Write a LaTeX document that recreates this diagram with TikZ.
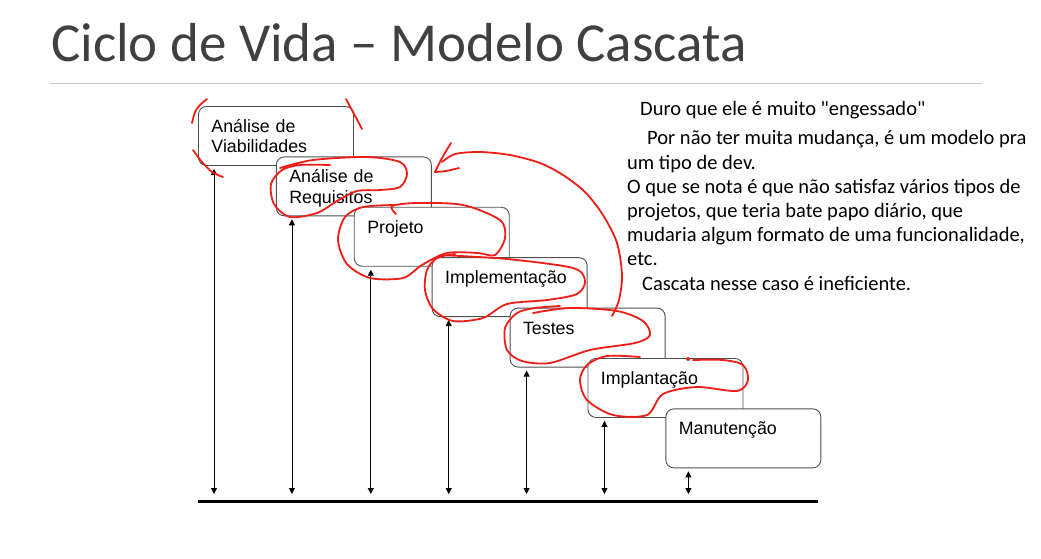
\documentclass[tikz,border=0pt]{standalone}
\usepackage{fontspec}
\usepackage{tikz}
\usetikzlibrary{positioning,arrows.meta}
\newfontfamily\calibri{Carlito}
\newfontfamily\arial{Liberation Sans}
\definecolor{ink}{RGB}{240,28,22}
\definecolor{titlegray}{RGB}{64,64,64}
\definecolor{boxgray}{RGB}{80,80,80}

\begin{document}
\begin{tikzpicture}[
  x=1pt, y=-1pt,
  phase/.style={draw=boxgray, line width=0.9pt, rounded corners=8pt, fill=white,
    text width=129pt, inner xsep=13pt, inner ysep=0pt, align=left,
    text height=26pt, text depth=33pt, font=\arial\fontsize{17.8}{20.5}\selectfont},
  note/.style={inner sep=0pt, align=left, font=\calibri\fontsize{20.5}{24.2}\selectfont},
  tick/.style={{Triangle[length=6pt,width=6pt]}-{Triangle[length=6pt,width=6pt]},
    line width=0.8pt, shorten <=3pt, shorten >=7pt},
  ink/.style={draw=ink, line width=1.8pt, line cap=round, line join=round},
  node distance=-9.5pt and -78pt
]
\useasboundingbox (0,0) rectangle (1041,558);

% title
\node[anchor=base west, inner sep=0pt, text=titlegray,
  font=\calibri\fontsize{55}{60}\selectfont] (titulo) at (51,61) {Ciclo de Vida – Modelo Cascata};
\draw[gray!45, line width=1pt] (50,83) -- (982,83);

% phases
\node[phase, anchor=north west] (via) at (198,106) {Análise de\\Viabilidades};
\node[phase, below right=of via] (req) {Análise de\\Requisitos};
\node[phase, below right=of req] (proj) {Projeto};
\node[phase, below right=of proj] (impl) {Implementação};
\node[phase, below right=of impl] (test) {Testes};
\node[phase, below right=of test] (impa) {Implantação};
\node[phase, below right=of impa] (manu) {Manutenção};

% base line and arrows
\coordinate (base) at (198,501);
\coordinate (base-r) at (818,501);
\draw[line width=3pt] (base) -- (base-r);
\draw[tick] ([xshift=16pt]via.south west) -- ([xshift=16pt]via.south west |- base);
\draw[tick] ([xshift=16pt]req.south west) -- ([xshift=16pt]req.south west |- base);
\draw[tick] ([xshift=17pt]proj.south west) -- ([xshift=17pt]proj.south west |- base);
\draw[tick] ([xshift=17pt]impl.south west) -- ([xshift=17pt]impl.south west |- base);
\draw[tick] ([xshift=17pt]test.south west) -- ([xshift=17pt]test.south west |- base);
\draw[tick] ([xshift=17pt]impa.south west) -- ([xshift=17pt]impa.south west |- base);
\draw[tick] ([xshift=23pt]manu.south west) -- ([xshift=23pt]manu.south west |- base);

% notes (base = last line)
\node[note, anchor=base west] (duro) at (640,115) {Duro que ele é muito "engessado"};
\node[note, anchor=base west] (nota) at (627,290) {\hspace*{20pt}Por não ter muita mudança, é um modelo pra\\
  um tipo de dev.\\
  O que se nota é que não satisfaz vários tipos de\\
  projetos, que teria bate papo diário, que\\
  mudaria algum formato de uma funcionalidade,\\
  etc.\\
  \hspace*{15pt}Cascata nesse caso é ineficiente.};

% red marks
\draw[ink] plot[smooth] coordinates {(192,123) (195,112) (200,105) (207,99)};
\draw[ink] plot[smooth] coordinates {(346,99) (353,112) (362,129)};
\draw[ink] plot[smooth] coordinates {(193,150) (202,162) (212,172) (223,177)};
\draw[ink] plot[smooth] coordinates {(280,168) (313,160) (367,157) (400,162) (407,174) (400,187)
  (380,190) (357,191) (337,201) (317,213) (290,217) (274,204) (271,184) (282,170) (300,165) (330,165)};
\draw[ink] plot[smooth] coordinates {(451,143) (442,158) (435,172)};
\draw[ink] plot[smooth] coordinates {(435,172) (446,171) (459,168)};
\draw[ink] plot[smooth] coordinates {(442,162) (455,154) (480,152) (510,155) (540,163) (563,175)
  (585,192) (603,215) (617,243) (622,275) (619,300) (612,316)};
\draw[ink] plot[smooth] coordinates {(396,214) (392,206) (417,203) (463,205) (500,220) (505,238)
  (495,255) (478,253) (447,253) (422,265) (403,278) (370,278) (347,264) (338,240) (345,217)
  (363,207) (395,205)};
\draw[ink] plot[smooth] coordinates {(440,255) (507,259) (573,268) (585,281) (577,294) (547,300)
  (507,304) (483,318) (453,321) (433,309) (425,290) (427,270) (437,258) (455,254)};
\draw[ink] plot[smooth] coordinates {(533,313) (570,308) (617,311) (643,321) (650,335) (635,343)
  (590,350) (550,363) (522,361) (507,350) (505,328) (517,313) (535,308) (560,306)};
\draw[ink] plot[smooth] coordinates {(640,357) (607,356) (587,365) (580,380) (587,400) (613,415)
  (647,415) (663,394) (697,387) (737,391) (748,380) (743,365) (723,360) (693,360)};
\fill[ink] (688,359) circle (1.2pt);
\end{tikzpicture}
\end{document}
